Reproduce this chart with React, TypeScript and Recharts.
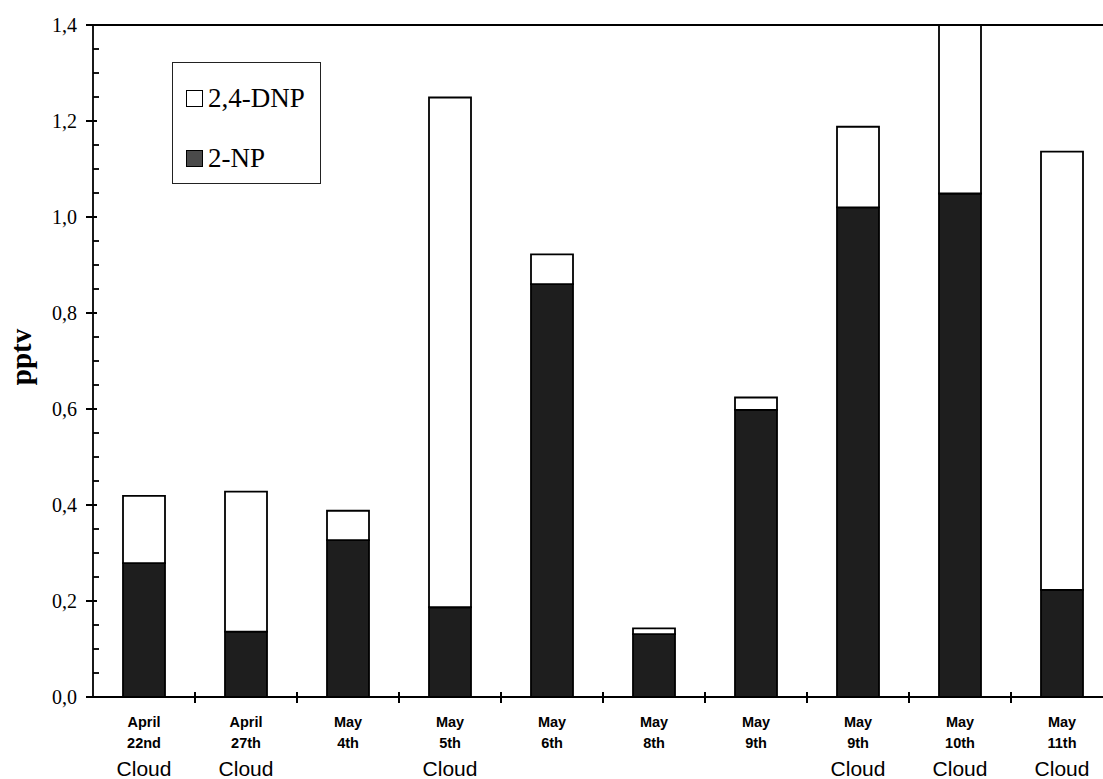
import React from "react";
import { BarChart, Bar, XAxis, YAxis, Legend, ReferenceLine, Label } from "recharts";

// ---- data ----
const MONTHS = ["April", "April", "May", "May", "May", "May", "May", "May", "May", "May"];
const DAYS = ["22nd", "27th", "4th", "5th", "6th", "8th", "9th", "9th", "10th", "11th"];
const CLOUD = [true, true, false, true, false, false, false, true, true, true];
const NP2 = [0.279, 0.136, 0.327, 0.187, 0.86, 0.131, 0.598, 1.02, 1.049, 0.223];
const DNP24 = [0.14, 0.292, 0.061, 1.062, 0.062, 0.012, 0.026, 0.168, 0.36, 0.913];
const Y_TICKS = [0, 0.05, 0.1, 0.15, 0.2, 0.25, 0.3, 0.35, 0.4, 0.45, 0.5, 0.55, 0.6, 0.65, 0.7, 0.75, 0.8, 0.85, 0.9, 0.95, 1.0, 1.05, 1.1, 1.15, 1.2, 1.25, 1.3, 1.35, 1.4];
const Y_MAJOR = [0, 0.2, 0.4, 0.6, 0.8, 1.0, 1.2, 1.4];

const data = DAYS.map((d, i) => ({
  id: `${MONTHS[i]} ${d} ${i}`,
  month: MONTHS[i],
  day: d,
  cloud: CLOUD[i],
  np: NP2[i],
  dnp: DNP24[i],
}));

// ---- layout ----
const CHART_W = 1125;
const CHART_H = 779;
const MARGIN = { top: 25, right: 12, bottom: 0, left: 33 };
const Y_AXIS_W = 60;
const X_AXIS_H = 82;
const PLOT_W = CHART_W - MARGIN.left - MARGIN.right - Y_AXIS_W;
const BAND = PLOT_W / DAYS.length;

const SERIF = "'Liberation Serif', 'Times New Roman', serif";
const SANS = "'Liberation Sans', Arial, sans-serif";
const NP_FILL = "#1e1e1e";

const isMajor = (v: number) => Y_MAJOR.some((m) => Math.abs(m - v) < 1e-6);

const YTick = (props: any) => {
  const x = Number(props.x);
  const y = Number(props.y);
  const v = Number(props.payload.value);
  if (isMajor(v)) {
    return (
      <g>
        <rect x={x - 7} y={y - 1} width={11} height={2} fill="#000" />
        <text x={x - 16} y={y} dy="0.35em" textAnchor="end" fontFamily={SERIF} fontSize={20} fill="#000">
          {v.toFixed(1).replace(".", ",")}
        </text>
      </g>
    );
  }
  return (
    <g>
      <rect x={x} y={y - 0.9} width={6} height={1.8} fill="#000" />
    </g>
  );
};

const XTick = (props: any) => {
  const x = Number(props.x);
  const y = Number(props.y);
  const d = data[props.payload.index];
  const bx = x + BAND / 2;
  return (
    <g>
      <rect x={bx - 1} y={y - 5} width={2} height={11} fill="#000" />
      <text x={x} y={y + 30} textAnchor="middle" fontFamily={SANS} fontWeight="bold" fontSize={14.5} fill="#000">
        {d.month}
      </text>
      <text x={x} y={y + 51} textAnchor="middle" fontFamily={SANS} fontWeight="bold" fontSize={14.5} fill="#000">
        {d.day}
      </text>
      {d.cloud && (
        <text x={x} y={y + 79} textAnchor="middle" fontFamily={SANS} fontSize={21} fill="#000">
          Cloud
        </text>
      )}
    </g>
  );
};

const LegendBox = () => {
  const items = [
    { label: "2,4-DNP", fill: "#fff" },
    { label: "2-NP", fill: "#4a4a4a" },
  ];
  return (
    <div
      style={{
        width: 149,
        height: 122,
        border: "1.5px solid #222",
        boxSizing: "border-box",
        background: "#fff",
        position: "relative",
      }}
    >
      {items.map((it, i) => (
        <div
          key={it.label}
          style={{
            position: "absolute",
            left: 13,
            top: 35 + i * 60 - 15,
            height: 30,
            display: "flex",
            alignItems: "center",
            fontFamily: SERIF,
            fontSize: 27,
            color: "#000",
            whiteSpace: "nowrap",
          }}
        >
          <span
            style={{
              display: "inline-block",
              width: 17,
              height: 17,
              border: "1.5px solid #000",
              background: it.fill,
              marginRight: 5,
              boxSizing: "border-box",
            }}
          />
          {it.label}
        </div>
      ))}
    </div>
  );
};

export default function App() {
  return (
    <div
      style={{
        position: "absolute",
        left: 0,
        top: 0,
        width: 1103,
        height: 779,
        overflow: "hidden",
        background: "#fff",
      }}
    >
      <BarChart width={CHART_W} height={CHART_H} data={data} margin={MARGIN}>
        <XAxis
          dataKey="id"
          height={X_AXIS_H}
          interval={0}
          tickSize={0}
          tickMargin={0}
          tickLine={false}
          axisLine={{ stroke: "#000", strokeWidth: 1.8 }}
          tick={XTick}
        />
        <YAxis
          width={Y_AXIS_W}
          domain={[0, 1.4]}
          allowDataOverflow
          ticks={Y_TICKS}
          interval={0}
          tickSize={0}
          tickMargin={0}
          tickLine={false}
          axisLine={{ stroke: "#000", strokeWidth: 1.8 }}
          tick={YTick}
        >
          <Label
            content={() => (
              <text
                x={21}
                y={357}
                transform="rotate(-90 21 357)"
                textAnchor="middle"
                dominantBaseline="central"
                fontFamily={SERIF}
                fontWeight="bold"
                fontSize={29}
                fill="#000"
              >
                pptv
              </text>
            )}
          />
        </YAxis>
        <ReferenceLine y={1.4} stroke="#000" strokeWidth={1.8} />
        <Bar dataKey="np" name="2-NP" stackId="a" fill={NP_FILL} stroke="#000" strokeWidth={1.8} barSize={42} isAnimationActive={false} />
        <Bar dataKey="dnp" name="2,4-DNP" stackId="a" fill="#fff" stroke="#000" strokeWidth={1.8} barSize={42} isAnimationActive={false} />
        <Legend
          layout="vertical"
          align="center"
          verticalAlign="middle"
          content={<LegendBox />}
          wrapperStyle={{ position: "absolute", left: 172, top: 62, width: 149, height: 122 }}
        />
      </BarChart>
    </div>
  );
}
